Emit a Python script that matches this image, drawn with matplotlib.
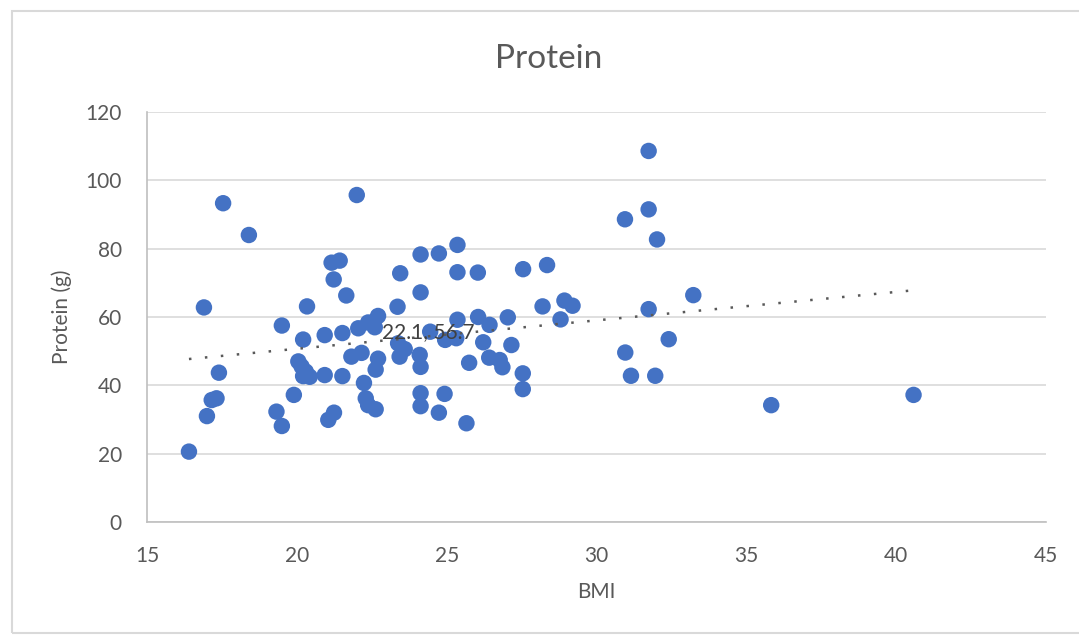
import numpy as np
import matplotlib
matplotlib.use("Agg")
import matplotlib.pyplot as plt
from matplotlib.patches import Rectangle

plt.rcParams['font.family'] = ['Lato', 'DejaVu Sans']

bmi = [16.4, 16.9, 17.0, 17.16, 17.32, 17.4, 17.54, 18.4, 19.32, 19.5,
       19.5, 19.9, 20.05, 20.16, 20.3, 20.43, 20.21, 20.21, 20.34, 20.93,
       20.93, 21.05, 21.24, 21.16, 21.43, 21.23, 21.52, 21.52, 21.65, 21.82,
       22.16, 22.0, 22.05, 22.38, 22.71, 22.6, 22.71, 22.63, 22.24, 22.3,
       22.38, 22.63, 23.36, 23.45, 23.38, 23.6, 23.43, 24.13, 24.74, 24.13,
       24.1, 24.13, 24.13, 24.13, 24.93, 24.74, 24.45, 24.95, 25.32, 25.36,
       25.36, 26.04, 25.36, 26.05, 26.43, 27.04, 25.75, 25.66, 26.22, 27.16,
       26.42, 26.77, 26.86, 27.54, 27.54, 27.55, 28.35, 28.2, 28.93, 29.2,
       28.8, 30.95, 31.74, 32.02, 31.74, 33.23, 31.74, 32.41, 30.96, 31.15,
       31.96, 35.83, 40.58]
protein = [20.6, 62.8, 31.0, 35.7, 36.2, 43.7, 93.3, 84.0, 32.3, 28.1,
           57.5, 37.2, 47.0, 45.5, 44.0, 42.5, 42.7, 53.4, 63.1, 54.7,
           43.0, 29.9, 32.0, 75.9, 76.5, 71.0, 55.3, 42.7, 66.3, 48.4,
           49.5, 95.7, 56.7, 58.4, 60.3, 57.0, 47.8, 44.6, 40.7, 36.2,
           34.2, 33.0, 63.0, 72.8, 52.3, 50.6, 48.4, 78.3, 78.6, 67.2,
           48.9, 45.4, 37.7, 33.9, 37.5, 32.0, 55.7, 53.3, 53.8, 81.1,
           73.1, 73.0, 59.2, 60.0, 57.7, 59.9, 46.6, 28.9, 52.6, 51.8,
           48.1, 47.4, 45.3, 43.5, 38.9, 74.0, 75.2, 63.1, 64.8, 63.3,
           59.3, 88.6, 91.5, 82.7, 108.6, 66.4, 62.3, 53.5, 49.6, 42.8,
           42.8, 34.2, 37.2]
label_point = (22.1, 56.7)
x_ticks = [15, 20, 25, 30, 35, 40, 45]
y_ticks = [0, 20, 40, 60, 80, 100, 120]

W, H = 1079, 635
fig = plt.figure(figsize=(W / 100, H / 100), dpi=100)
ax = fig.add_axes([147 / W, 1 - 522 / H, (1046 - 147) / W, (522 - 112) / H])

# outer chart border
fig.patches.append(Rectangle((12 / W, 1 - 633 / H), (1079 - 12) / W + 0.01, (633 - 11) / H,
                             transform=fig.transFigure, fill=False,
                             edgecolor='#D9D9D9', linewidth=1.5))

ax.set_xlim(15, 45)
ax.set_ylim(0, 120)
ax.set_xticks(x_ticks)
ax.set_yticks(y_ticks)
ax.grid(axis='y', color='#D9D9D9', linewidth=1.2)
ax.set_axisbelow(True)
for s in ['top', 'right']:
    ax.spines[s].set_visible(False)
for s in ['left', 'bottom']:
    ax.spines[s].set_color('#BFBFBF')
    ax.spines[s].set_linewidth(1.2)
ax.tick_params(axis='y', length=0, labelsize=15, labelcolor='#595959', pad=18)
ax.tick_params(axis='x', length=0, labelsize=15, labelcolor='#595959', pad=17)

ax.scatter(bmi, protein, s=140, color='#4472C4', edgecolors='none', zorder=3)

# linear trendline
xa = np.array(bmi)
ya = np.array(protein)
m, b = np.polyfit(xa, ya, 1)
xs = np.array([xa.min(), xa.max()])
ax.plot(xs, m * xs + b, color='#595959', linewidth=1.8,
        linestyle=(0, (1, 5.4)), dash_capstyle='butt', zorder=4)

ax.annotate(f"{label_point[0]}, {label_point[1]}", xy=label_point, xytext=(16, -3),
            textcoords='offset points', va='center', ha='left', fontsize=15,
            color='#404040', zorder=5)

ax.set_xlabel('BMI', fontsize=15, color='#595959', labelpad=12)
ax.set_ylabel('Protein (g)', fontsize=15, color='#595959', labelpad=10)
fig.text(549 / W, 1 - 59 / H, 'Protein', ha='center', va='center', fontsize=24, color='#595959')

fig.savefig('out.png', dpi=100)
